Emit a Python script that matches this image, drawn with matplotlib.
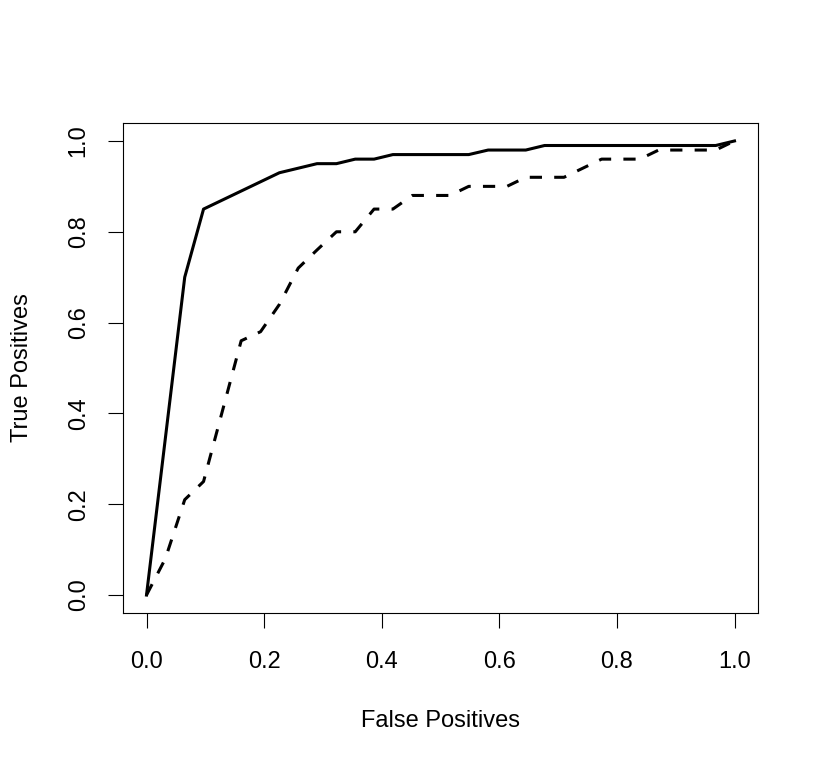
import matplotlib.pyplot as plt
import numpy as np

plt.rcParams['font.family'] = ['Liberation Sans', 'DejaVu Sans']

# ROC curve, solid line
fp_solid = [0.0, 0.065, 0.097, 0.226, 0.290, 0.323, 0.355, 0.387, 0.419,
            0.548, 0.581, 0.645, 0.677, 0.968, 1.0]
tp_solid = [0.0, 0.70, 0.85, 0.93, 0.95, 0.95, 0.96, 0.96, 0.97,
            0.97, 0.98, 0.98, 0.99, 0.99, 1.0]

# ROC curve, dashed line
fp_dashed = [0.0, 0.032, 0.065, 0.097, 0.161, 0.194, 0.226, 0.258, 0.290,
             0.323, 0.355, 0.387, 0.419, 0.452, 0.516, 0.548, 0.613, 0.645,
             0.710, 0.742, 0.774, 0.839, 0.871, 0.968, 1.0]
tp_dashed = [0.0, 0.08, 0.21, 0.25, 0.56, 0.58, 0.64, 0.72, 0.76,
             0.80, 0.80, 0.85, 0.85, 0.88, 0.88, 0.90, 0.90, 0.92,
             0.92, 0.94, 0.96, 0.96, 0.98, 0.98, 1.0]

ticks = [0.0, 0.2, 0.4, 0.6, 0.8, 1.0]
tick_labels = ['0.0', '0.2', '0.4', '0.6', '0.8', '1.0']

fig = plt.figure(figsize=(8.21, 7.67), dpi=100)
ax = fig.add_axes([0.1498, 0.2005, 0.7735, 0.6394])

ax.plot(fp_solid, tp_solid, color='black', lw=2.2, solid_joinstyle='round')
ax.plot(fp_dashed, tp_dashed, color='black', lw=2.2, ls=(0, (4, 4)),
        dash_capstyle='butt', dash_joinstyle='round')

# R style: 4% padding, box, outward ticks
ax.set_xlim(-0.04, 1.04)
ax.set_ylim(-0.04, 1.04)
for s in ax.spines.values():
    s.set_linewidth(0.8)
ax.set_xticks(ticks)
ax.set_xticklabels(tick_labels)
ax.set_yticks(ticks)
ax.set_yticklabels(tick_labels, rotation=90, va='center')
ax.tick_params(direction='out', length=11, width=0.8, labelsize=17)
ax.tick_params(axis='x', pad=16)
ax.tick_params(axis='y', pad=13)

ax.set_xlabel('False Positives', fontsize=17, labelpad=27)
ax.set_ylabel('True Positives', fontsize=17, labelpad=25)

fig.savefig('out.png', dpi=100)
